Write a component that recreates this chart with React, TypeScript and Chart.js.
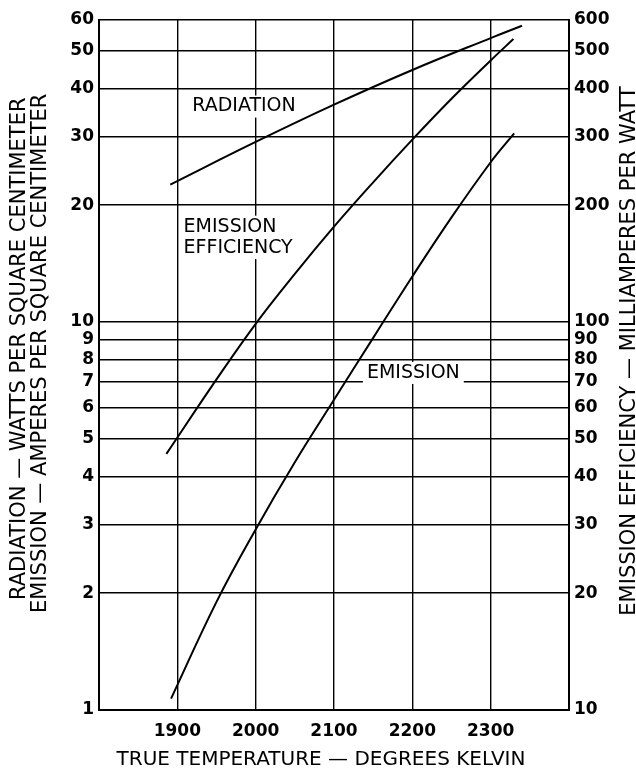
import React, { useEffect, useRef } from 'react';
import { Chart, registerables } from 'chart.js';

Chart.register(...registerables);

// Temperatures (K) and values
const radiationTemps = [1891, 2000, 2100, 2200, 2300, 2340];
const radiationValues = [22.6, 29.1, 36.3, 44.6, 53.9, 58.0]; // W/cm²

const efficiencyTemps = [1886, 1950, 2000, 2050, 2100, 2150, 2200, 2250, 2300, 2329];
const efficiencyValues = [45.7, 71.1, 98.9, 133, 176, 229, 295, 376, 472, 536]; // mA/W

const emissionTemps = [1892, 1950, 2000, 2050, 2100, 2150, 2200, 2250, 2300, 2330];
const emissionValues = [1.07, 1.9, 2.92, 4.35, 6.3, 9.1, 13.1, 18.6, 25.8, 30.6]; // A/cm²

const xTicks = [1800, 1900, 2000, 2100, 2200, 2300, 2400];
const xLabelled = [1900, 2000, 2100, 2200, 2300];
const leftTicks = [1, 2, 3, 4, 5, 6, 7, 8, 9, 10, 20, 30, 40, 50, 60];
const rightTicks = [10, 20, 30, 40, 50, 60, 70, 80, 90, 100, 200, 300, 400, 500, 600];

const xTitle = 'TRUE TEMPERATURE — DEGREES KELVIN';
const leftTitle1 = 'RADIATION — WATTS PER SQUARE CENTIMETER';
const leftTitle2 = 'EMISSION — AMPERES PER SQUARE CENTIMETER';
const rightTitle = 'EMISSION EFFICIENCY — MILLIAMPERES PER WATT';

// Curve labels: text, temperature, left-axis value
const curveLabelTexts = ['RADIATION', 'EMISSION', 'EFFICIENCY', 'EMISSION'];
const curveLabelTemps = [1919, 1908, 1908, 2142];
const curveLabelValues = [35.9, 17.6, 15.5, 7.39];

const FONT = '"DejaVu Sans", sans-serif';

const textPlugin = {
  id: 'textPlugin',
  afterDraw(chart: any) {
    const { ctx, chartArea, scales } = chart;
    ctx.save();
    ctx.fillStyle = '#000';
    ctx.font = `20px ${FONT}`;
    ctx.textAlign = 'center';
    ctx.textBaseline = 'middle';
    ctx.fillText(xTitle, chartArea.left + 222, chartArea.bottom + 50);

    ctx.font = `21px ${FONT}`;
    ctx.textAlign = 'left';
    ctx.save();
    ctx.translate(chartArea.left - 79.5, chartArea.bottom - 110);
    ctx.rotate(-Math.PI / 2);
    ctx.fillText(leftTitle1, 0, 0);
    ctx.restore();

    ctx.save();
    ctx.translate(chartArea.left - 58.5, chartArea.bottom - 97);
    ctx.rotate(-Math.PI / 2);
    ctx.fillText(leftTitle2, 0, 0);
    ctx.restore();

    ctx.textAlign = 'center';
    ctx.save();
    ctx.translate(chartArea.right + 61, chartArea.top + 331);
    ctx.rotate(-Math.PI / 2);
    ctx.fillText(rightTitle, 0, 0);
    ctx.restore();

    ctx.font = `19px ${FONT}`;
    ctx.textAlign = 'left';
    for (let i = 0; i < curveLabelTexts.length; i++) {
      const x = scales.x.getPixelForValue(curveLabelTemps[i]);
      const y = scales.y.getPixelForValue(curveLabelValues[i]);
      const w = ctx.measureText(curveLabelTexts[i]).width;
      ctx.fillStyle = '#fff';
      ctx.fillRect(x - 4, y - 11, w + 8, 22);
    }
    ctx.fillStyle = '#000';
    for (let i = 0; i < curveLabelTexts.length; i++) {
      const x = scales.x.getPixelForValue(curveLabelTemps[i]);
      const y = scales.y.getPixelForValue(curveLabelValues[i]);
      ctx.fillText(curveLabelTexts[i], x, y);
    }
    ctx.restore();
  },
};

export default function App() {
  const canvasRef = useRef<HTMLCanvasElement | null>(null);

  useEffect(() => {
    if (!canvasRef.current) return;
    const lineStyle = {
      borderColor: '#000',
      borderWidth: 2,
      pointRadius: 0,
      fill: false,
      tension: 0.4,
    };
    const gridStyle = { color: '#000', lineWidth: 1.4, drawTicks: false };
    const tickFont = { family: FONT, size: 17, weight: 'bold' as const };
    const chart = new Chart(canvasRef.current, {
      type: 'line',
      data: {
        datasets: [
          {
            label: 'Radiation',
            data: radiationTemps.map((t, i) => ({ x: t, y: radiationValues[i] })),
            yAxisID: 'y',
            ...lineStyle,
          },
          {
            label: 'Emission efficiency',
            data: efficiencyTemps.map((t, i) => ({ x: t, y: efficiencyValues[i] })),
            yAxisID: 'y1',
            ...lineStyle,
          },
          {
            label: 'Emission',
            data: emissionTemps.map((t, i) => ({ x: t, y: emissionValues[i] })),
            yAxisID: 'y',
            ...lineStyle,
          },
        ],
      },
      options: {
        animation: false,
        responsive: true,
        maintainAspectRatio: false,
        layout: { padding: { top: 20, left: 0, right: 0, bottom: 0 } },
        plugins: { legend: { display: false }, tooltip: { enabled: false }, title: { display: false } },
        scales: {
          x: {
            type: 'linear',
            min: 1800,
            max: 2400,
            afterBuildTicks: (s: any) => {
              s.ticks = xTicks.map((v) => ({ value: v }));
            },
            afterFit: (s: any) => {
              s.height = 61;
            },
            ticks: {
              autoSkip: false,
              maxRotation: 0,
              padding: 11,
              color: '#000',
              font: tickFont,
              callback: (v: any) => (xLabelled.includes(Number(v)) ? String(v) : ''),
            },
            grid: gridStyle,
            border: { color: '#000', width: 2 },
          },
          y: {
            type: 'logarithmic',
            position: 'left',
            min: 1,
            max: 60,
            afterBuildTicks: (s: any) => {
              s.ticks = leftTicks.map((v) => ({ value: v }));
            },
            afterFit: (s: any) => {
              s.width = 99;
            },
            ticks: {
              autoSkip: false,
              padding: 5,
              color: '#000',
              font: tickFont,
              callback: (v: any) => String(v),
            },
            grid: gridStyle,
            border: { color: '#000', width: 2 },
          },
          y1: {
            type: 'logarithmic',
            position: 'right',
            min: 10,
            max: 600,
            afterBuildTicks: (s: any) => {
              s.ticks = rightTicks.map((v) => ({ value: v }));
            },
            afterFit: (s: any) => {
              s.width = 67;
            },
            ticks: {
              autoSkip: false,
              padding: 5,
              color: '#000',
              font: tickFont,
              callback: (v: any) => String(v),
            },
            grid: { display: false, drawTicks: false },
            border: { color: '#000', width: 2 },
          },
        },
      },
      plugins: [textPlugin],
    });
    return () => chart.destroy();
  }, []);

  return (
    <div style={{ position: 'fixed', left: 0, top: 0, width: 636, height: 771, background: '#fff' }}>
      <canvas ref={canvasRef} />
    </div>
  );
}
